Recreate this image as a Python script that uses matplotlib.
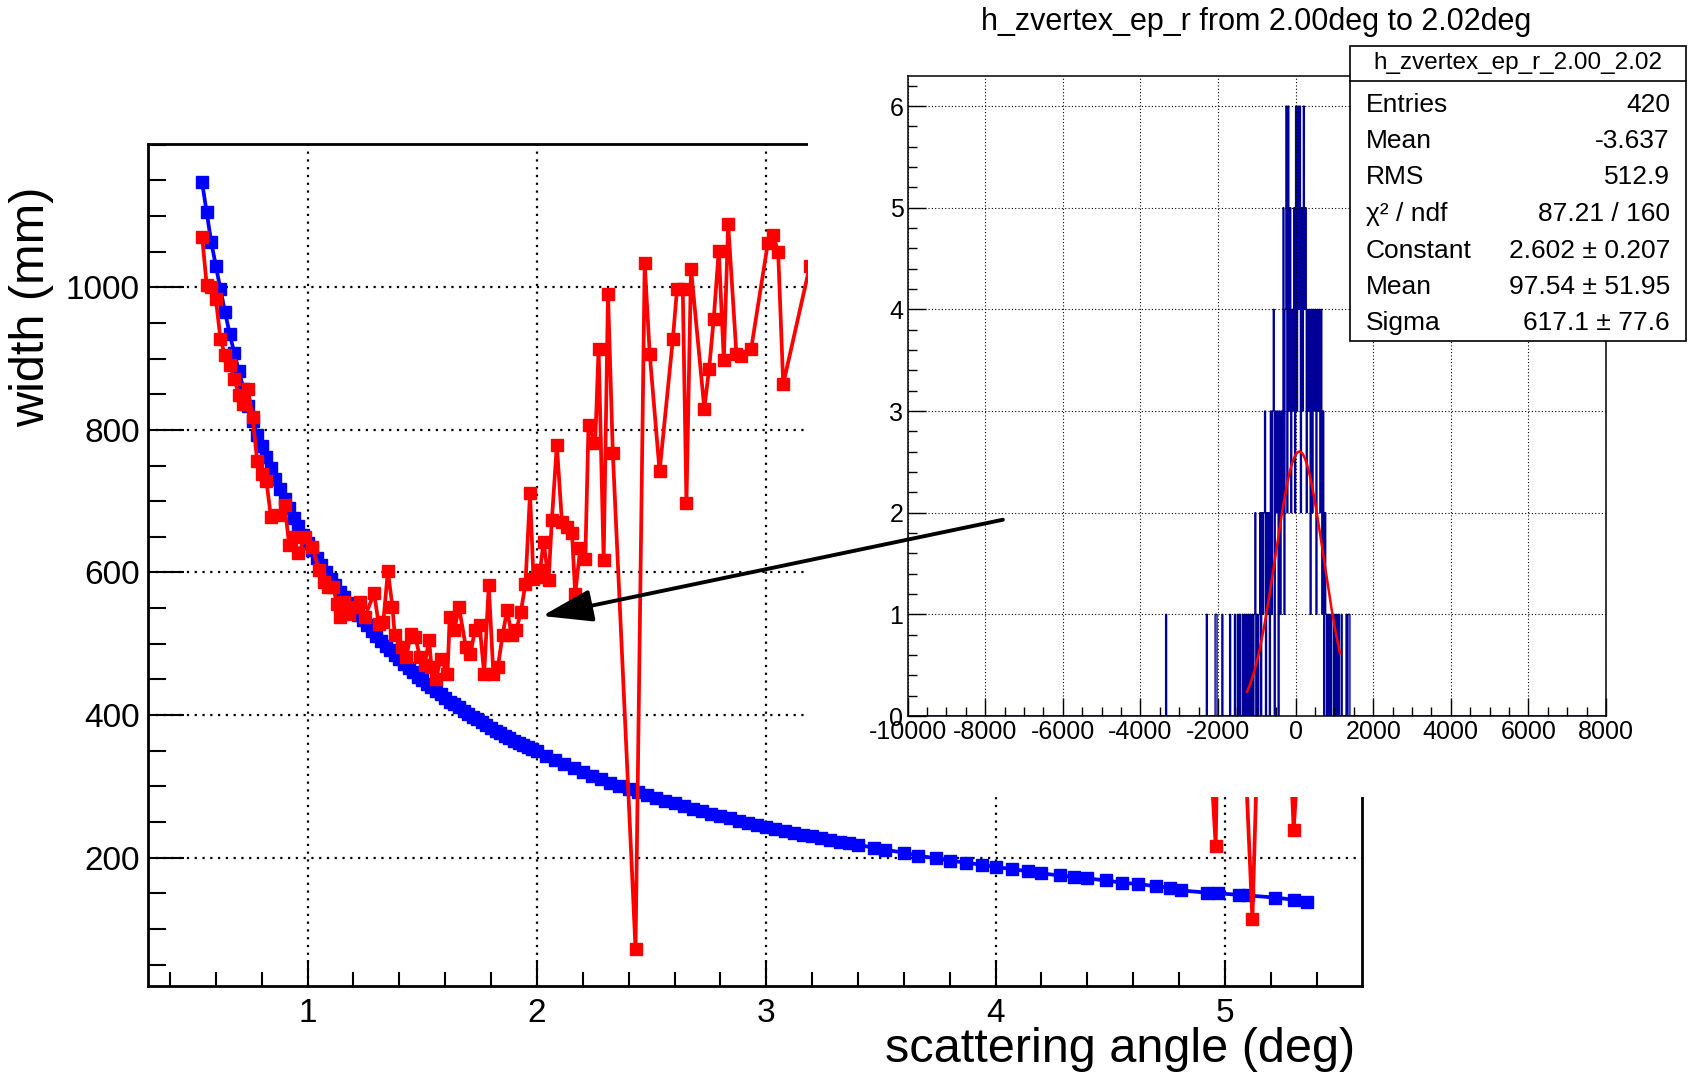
import numpy as np
import matplotlib
matplotlib.use('Agg')
import matplotlib.pyplot as plt
from matplotlib.patches import Rectangle, FancyArrowPatch
from matplotlib.lines import Line2D
from matplotlib.ticker import MultipleLocator, FixedLocator

plt.rcParams['font.family'] = ['Liberation Sans', 'DejaVu Sans']
plt.rcParams['axes.unicode_minus'] = False

# ---------------- data: main plot ----------------
blue_angle = [0.54, 0.56, 0.58, 0.60, 0.62, 0.64, 0.66, 0.68, 0.70, 0.72, 0.74, 0.76, 0.78, 0.80,
              0.82, 0.84, 0.86, 0.88, 0.90, 0.92, 0.94, 0.96, 0.98, 1.00, 1.02, 1.04, 1.06, 1.08,
              1.10, 1.12, 1.14, 1.16, 1.18, 1.20, 1.22, 1.24, 1.26, 1.28, 1.30, 1.32, 1.34, 1.36,
              1.38, 1.40, 1.42, 1.44, 1.46, 1.48, 1.50, 1.52, 1.54, 1.56, 1.58, 1.60, 1.62, 1.64,
              1.66, 1.68, 1.70, 1.72, 1.74, 1.76, 1.78, 1.80, 1.82, 1.84, 1.86, 1.88, 1.90, 1.92,
              1.94, 1.96, 1.98, 2.00, 2.04, 2.08, 2.12, 2.16, 2.20, 2.24, 2.28, 2.32, 2.36, 2.40,
              2.44, 2.48, 2.52, 2.56, 2.60, 2.64, 2.68, 2.72, 2.76, 2.80, 2.84, 2.88, 2.92, 2.96,
              3.00, 3.04, 3.08, 3.12, 3.16, 3.20, 3.24, 3.28, 3.32, 3.36, 3.40, 3.47, 3.52, 3.60,
              3.66, 3.74, 3.80, 3.87, 3.94, 4.00, 4.07, 4.14, 4.20, 4.28, 4.34, 4.40, 4.48, 4.55,
              4.62, 4.70, 4.76, 4.81, 4.92, 4.97, 5.06, 5.10, 5.22, 5.30, 5.36]
blue_width = [1147, 1105, 1063, 1030, 997, 965, 935, 908, 883, 858, 834, 812, 793, 777,
              762, 746, 731, 717, 703, 690, 677, 665, 653, 642, 631, 620, 610, 600,
              591, 582, 573, 565, 557, 549, 541, 533, 526, 518, 511, 504, 497, 491,
              484, 478, 472, 466, 460, 454, 449, 444, 439, 434, 429, 424, 419, 415,
              411, 406, 402, 398, 394, 390, 386, 382, 378, 375, 371, 368, 364, 361,
              358, 355, 352, 349, 343, 337, 331, 326, 320, 315, 310, 305, 300, 296,
              292, 288, 284, 280, 276, 272, 268, 265, 261, 258, 255, 252, 249, 246,
              243, 240, 237, 235, 232, 230, 227, 225, 222, 220, 218, 214, 211, 207,
              203, 199, 196, 193, 190, 187, 184, 181, 178, 175, 173, 171, 168, 165,
              163, 160, 158, 154, 151, 150, 148, 147, 144, 141, 138]

red_angle = [0.54, 0.56, 0.58, 0.60, 0.62, 0.64, 0.66, 0.68, 0.70, 0.72, 0.74, 0.76, 0.78, 0.80,
             0.82, 0.84, 0.87, 0.90, 0.92, 0.94, 0.96, 0.99, 1.02, 1.05, 1.07, 1.09, 1.11, 1.13,
             1.14, 1.16, 1.18, 1.21, 1.23, 1.25, 1.29, 1.31, 1.33, 1.35, 1.37, 1.38, 1.41, 1.43,
             1.45, 1.47, 1.49, 1.51, 1.53, 1.54, 1.56, 1.58, 1.61, 1.62, 1.64, 1.66, 1.69, 1.71,
             1.73, 1.75, 1.77, 1.79, 1.81, 1.83, 1.85, 1.87, 1.89, 1.91, 1.93, 1.95, 1.97, 1.985,
             2.00, 2.014, 2.029, 2.051, 2.065, 2.087, 2.109, 2.131, 2.153, 2.167, 2.189, 2.211,
             2.225, 2.254, 2.269, 2.291, 2.310, 2.331, 2.43, 2.47, 2.492, 2.535, 2.593, 2.611,
             2.636, 2.652, 2.672, 2.730, 2.751, 2.771, 2.793, 2.815, 2.834, 2.870, 2.892, 2.934,
             3.007, 3.030, 3.052, 3.074, 3.19, 3.26, 3.40, 3.60, 3.80, 4.00, 4.20, 4.40, 4.60,
             4.82, 4.96, 5.00, 5.12, 5.20, 5.30, 5.45]
red_width = [1071, 1003, 1001, 984, 927, 905, 891, 872, 849, 837, 857, 818, 757, 738,
             729, 678, 680, 694, 638, 650, 627, 650, 636, 603, 587, 580, 580, 556,
             538, 559, 542, 552, 559, 538, 571, 528, 530, 602, 552, 512, 495, 481,
             514, 509, 481, 470, 505, 467, 451, 479, 458, 538, 519, 552, 495, 486,
             519, 526, 458, 582, 458, 468, 512, 547, 512, 519, 545, 584, 711, 591,
             594, 603, 643, 589, 673, 779, 671, 664, 655, 570, 634, 619,
             807, 781, 914, 617, 991, 767, 72, 1034, 906, 742, 928, 998,
             998, 697, 1026, 830, 886, 956, 1051, 898, 1089, 906, 903, 913,
             1062, 1073, 1050, 864, 1030, 1100, 980, 1120, 1000, 1150, 1050, 1180, 1000,
             1000, 217, 1000, 114, 1000, 239, 1000]

x_ticks = [1, 2, 3, 4, 5]
y_ticks = [200, 400, 600, 800, 1000]

# ---------------- data: inset histogram (bin width 25) ----------------
outlier_bin_lo = [-3350, -2300, -2075, -2050, -1900, -1700, -1575, -1500, -1450, -1375]
core_first_lo = -1325
core_counts = [1, 0, 1, 0, 1, 0, 1, 0, 1, 0,          # -1325 .. -1100
               1, 2, 0, 1, 0, 1, 2, 0, 2, 1,          # -1075 .. -850
               2, 3, 0, 2, 1, 2, 0, 3, 1, 3,          # -825 .. -600
               4, 0, 3, 2, 3, 0, 3, 1, 3, 2,          # -575 .. -350
               5, 1, 4, 6, 2, 6, 3, 5, 2, 4,          # -325 .. -100
               3, 5, 2, 6, 3, 6, 4, 6, 2, 5,          # -75 .. 150
               3, 6, 4, 5, 2, 4, 3, 4, 1, 4,          # 175 .. 400
               2, 4, 3, 4, 1, 4, 3, 4, 2, 4,          # 425 .. 650
               1, 3, 0, 2, 1, 0, 1, 0, 1, 0,          # 675 .. 900
               1, 1, 0, 1, 0, 1, 0, 1, 0, 0,          # 925 .. 1150
               1, 0, 0, 0, 0, 1, 0, 1, 1, 0]          # 1175 .. 1400
hist_bw = 25
fit_const, fit_mean, fit_sigma = 2.602, 97.54, 617.1
fit_range = (-1250, 1145)

inset_title = 'h_zvertex_ep_r from 2.00deg to 2.02deg'
stats_name = 'h_zvertex_ep_r_2.00_2.02'
stats_labels = ['Entries', 'Mean', 'RMS', 'χ² / ndf', 'Constant', 'Mean', 'Sigma']
stats_values = ['420', '-3.637', '512.9', '87.21 / 160', '2.602 ± 0.207',
                '97.54 ± 51.95', '617.1 ± 77.6']

# ---------------- figure ----------------
W, H = 1693, 1072
fig = plt.figure(figsize=(W / 100, H / 100), dpi=100)


def fx(px):
    return px / W


def fy(py):
    return 1 - py / H


ax = fig.add_axes([fx(148), fy(986), fx(1362 - 148), (986 - 144) / H], zorder=0)
ax.plot(blue_angle, blue_width, color='#0000ff', lw=2.7, marker='s', ms=8,
        mec='#0000ff', mfc='#0000ff', zorder=3)
ax.plot(red_angle, red_width, color='#ff0000', lw=2.7, marker='s', ms=8,
        mec='#ff0000', mfc='#ff0000', zorder=4)
ax.set_xlim(0.304, 5.598)
ax.set_ylim(20, 1201)
ax.xaxis.set_major_locator(FixedLocator(x_ticks))
ax.xaxis.set_minor_locator(MultipleLocator(0.2))
ax.yaxis.set_major_locator(FixedLocator(y_ticks))
ax.yaxis.set_minor_locator(MultipleLocator(50))
ax.tick_params(which='both', direction='in', top=False, right=False, width=1.5)
ax.tick_params(axis='y', which='major', length=26, pad=6, labelsize=24)
ax.tick_params(axis='y', which='minor', length=13)
ax.tick_params(axis='x', which='major', length=19, pad=9, labelsize=24)
ax.tick_params(axis='x', which='minor', length=10)
ax.grid(True, which='major', color='k', linestyle=(0, (1, 2.5)), lw=1.6)
for s in ax.spines.values():
    s.set_linewidth(2)

fig.text(fx(1355), fy(1062), 'scattering angle (deg)', ha='right', va='baseline', fontsize=35)
fig.text(fx(32), fy(307), 'width (mm)', rotation=90, ha='center', va='center', fontsize=35)

# white background of the pasted inset
fig.add_artist(Rectangle((fx(808), fy(797)), 1 - fx(808), 797 / H, transform=fig.transFigure,
                         facecolor='white', edgecolor='none', zorder=1))

ins = fig.add_axes([fx(907.6), fy(716), fx(1606 - 907.6), (716 - 75.6) / H], zorder=2)
edges = np.arange(-10000, 8000 + hist_bw, hist_bw)
counts = np.zeros(len(edges) - 1)
for lo in outlier_bin_lo:
    counts[int((lo + 10000) // hist_bw)] = 1
k0 = int((core_first_lo + 10000) // hist_bw)
counts[k0:k0 + len(core_counts)] = core_counts
ins.stairs(counts, edges, color='#000099', lw=1.0, baseline=0)
xf = np.linspace(fit_range[0], fit_range[1], 300)
ins.plot(xf, fit_const * np.exp(-0.5 * ((xf - fit_mean) / fit_sigma) ** 2), color='#ff0000', lw=1.8)
ins.set_xlim(-10000, 8000)
ins.set_ylim(0, 6.3)
ins.xaxis.set_major_locator(MultipleLocator(2000))
ins.xaxis.set_minor_locator(MultipleLocator(500))
ins.yaxis.set_major_locator(MultipleLocator(1))
ins.yaxis.set_minor_locator(MultipleLocator(0.2))
ins.tick_params(which='both', direction='in', top=False, right=False, width=1.0)
ins.tick_params(which='major', length=13, labelsize=18, pad=3)
ins.tick_params(which='minor', length=6.5)
ins.grid(True, which='major', color='k', linestyle=(0, (1, 2)), lw=0.8)
for s in ins.spines.values():
    s.set_linewidth(1.1)

fig.text(fx(1256), fy(22), inset_title, ha='center', va='center', fontsize=22, zorder=3)

# statistics box
bx0, bx1, by0, by1 = 1349.6, 1686, 46.4, 341
fig.add_artist(Rectangle((fx(bx0), fy(by1)), fx(bx1 - bx0), (by1 - by0) / H,
                         transform=fig.transFigure, facecolor='white', edgecolor='black',
                         lw=1.2, zorder=3))
fig.add_artist(Line2D([fx(bx0), fx(bx1)], [fy(81), fy(81)], transform=fig.transFigure,
                      color='black', lw=1.2, zorder=3))
fig.text(fx((bx0 + bx1) / 2), fy(63), stats_name, ha='center', va='center', fontsize=17.5, zorder=4)
row_y = [104.7, 141.4, 177, 213.8, 250.5, 287.2, 322.8]
for yy, lab, val in zip(row_y, stats_labels, stats_values):
    fig.text(fx(1366), fy(yy), lab, ha='left', va='center', fontsize=19, zorder=4)
    fig.text(fx(1670), fy(yy), val, ha='right', va='center', fontsize=19, zorder=4)

# arrow from inset to the 2.00-2.02 deg point
arr = FancyArrowPatch(posA=(4.032, 674), posB=(2.023, 539), transform=ax.transData,
                      arrowstyle='-|>,head_length=31,head_width=10', mutation_scale=1,
                      lw=2.8, color='black', shrinkA=0, shrinkB=0, zorder=5)
fig.add_artist(arr)

fig.savefig('out.png', dpi=100)
